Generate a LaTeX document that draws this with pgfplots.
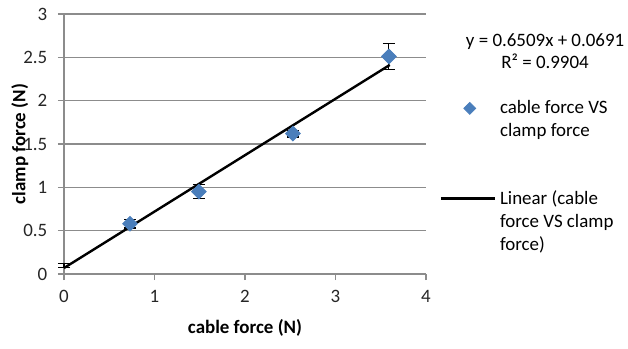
\documentclass[border=0pt]{standalone}
\usepackage{pgfplots}
\pgfplotsset{compat=1.18}
\usepackage{fontspec}
\setmainfont{Carlito}
\definecolor{exblue}{HTML}{4A7EBB}
\definecolor{exgray}{HTML}{8C8C8C}
\pgfplotsset{linelegend/.style={legend image code/.code={\draw[##1] (0bp,0bp) -- (27bp,0bp);}},
  marklegend/.style={legend image code/.code={\path[draw=none] (0bp,0bp) (27bp,0bp); \path[##1,only marks,draw=none,mark size=2.1bp] plot coordinates {(14.5bp,0bp)};}}}
\begin{document}
\fontsize{9.5}{11.6}\selectfont
\begin{tikzpicture}
\begin{axis}[
  name=ax,
  scale only axis,
  width=181bp, height=130bp,
  xmin=0, xmax=4, ymin=0, ymax=3,
  xtick={0,1,2,3,4}, ytick={0,0.5,1,1.5,2,2.5,3},
  axis x line*=bottom, axis y line*=left,
  axis line style={exgray, line width=0.6bp, -},
  tick style={exgray, line width=0.6bp},
  tick align=outside, major tick length=3bp,
  ymajorgrids, grid style={exgray, line width=0.6bp},
  /pgf/number format/assume math mode=true,
  tick label style={font=\fontsize{9.5}{11.6}\selectfont, text=black!85},
  xticklabel style={yshift=-2bp},
  yticklabel style={xshift=-2bp},
  xlabel={\textbf{cable force (N)}},
  ylabel={\textbf{clamp force (N)}},
  xlabel style={at={(axis description cs:0.5,-0.208)}, anchor=center},
  ylabel style={at={(axis description cs:-0.122,0.5)}, anchor=center},
  clip=false,
  legend style={at={(rel axis cs:1.02,0.70)}, anchor=north west, draw=none, fill=none,
    font=\fontsize{9.5}{11.6}\selectfont, row sep=33bp,
    cells={anchor=west, align=left}},
]
\addplot[only marks, mark=square*, mark size=2.6bp,
  mark options={rotate=45, fill=exblue, draw=exblue}, marklegend,
  error bars/.cd, y dir=both, y explicit,
  error bar style={black, line width=0.6bp},
  error mark options={rotate=90, mark size=3bp, black, line width=0.6bp},
]
  coordinates {
  (0.73,0.58) +- (0,0.05)
  (1.49,0.95) +- (0,0.08)
  (2.53,1.62) +- (0,0.04)
  (3.59,2.51) +- (0,0.15)
  };
\addlegendentry{\parbox[t]{60bp}{cable force VS\\clamp force}}
\addplot[draw=none, mark=none, forget plot,
  error bars/.cd, y dir=both, y explicit,
  error bar style={black, line width=0.6bp},
  error mark options={rotate=90, mark size=3bp, black, line width=0.6bp},
]
  coordinates {(0,0.10) +- (0,0.025)};
\addplot[black, line width=1.2bp, mark=none, linelegend]
  coordinates {(0,0.0691) (3.6,2.4123)};
\addlegendentry{\parbox[t]{62bp}{Linear (cable\\force VS clamp\\force)}}
\node[align=center, font=\fontsize{9.5}{11.2}\selectfont] at (rel axis cs:1.329,0.858)
  {y = 0.6509x + 0.0691\\R² = 0.9904};
\end{axis}
\pgfresetboundingbox
\path ([shift={(-32bp,-37.5bp)}]ax.south west) rectangle ([shift={(282bp,137bp)}]ax.south west);
\end{tikzpicture}
\end{document}
